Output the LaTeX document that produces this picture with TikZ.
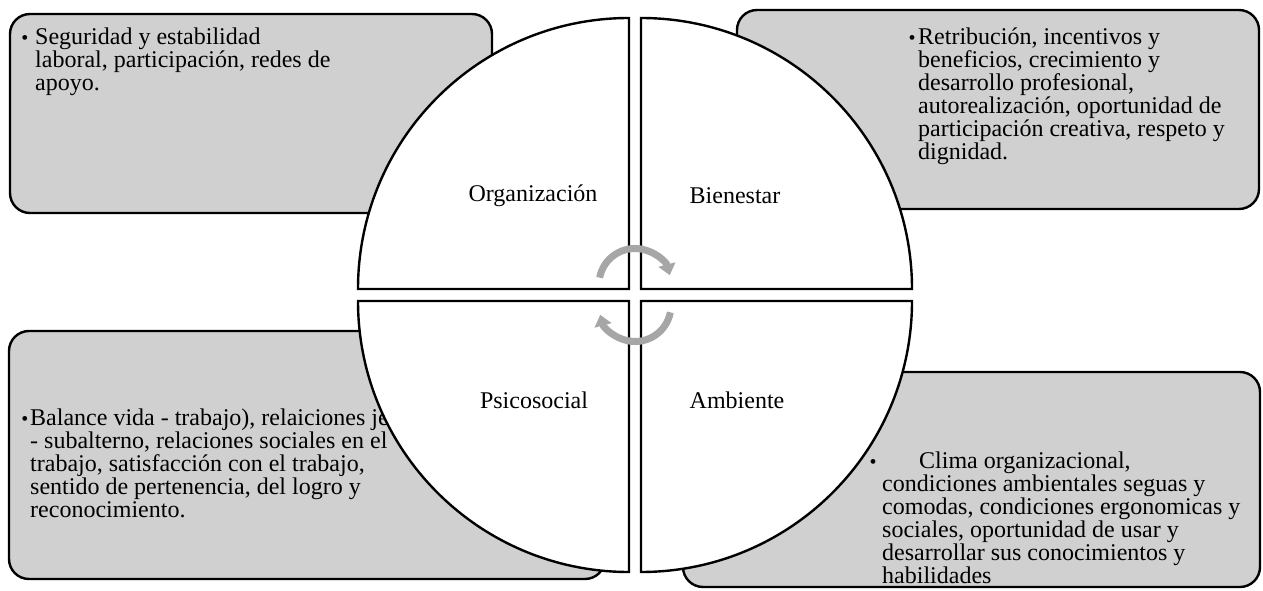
\documentclass[tikz,border=0pt]{standalone}
\usepackage{fontspec}
\setmainfont{Liberation Serif}
\usetikzlibrary{arrows.meta}
\definecolor{cajagris}{HTML}{D0D0D0}
\definecolor{flechagris}{HTML}{A6A6A6}

\begin{document}
\begin{tikzpicture}[x=1pt,y=1pt,
  caja/.style={draw,line width=2.4pt,fill=cajagris,rounded corners=20pt,inner sep=0pt},
  cuarto/.style={draw,line width=2.4pt,fill=white},
  texto/.style={anchor=base west,align=left,inner sep=0pt,font=\fontsize{24}{23}\selectfont},
  punto/.style={anchor=base,inner sep=0pt,font=\fontsize{20}{23}\selectfont},
  etiqueta/.style={inner sep=0pt,font=\fontsize{24}{23}\selectfont},
  giro/.style={flechagris,line width=7pt,-{Triangle[width=17pt,length=11pt]}}]
\useasboundingbox (0,0) rectangle (1263,590);
% cajas
\node[caja,minimum width=482pt,minimum height=199pt] (org) at (251,476.5) {};
\node[caja,minimum width=522pt,minimum height=199pt] (bien) at (998,480.5) {};
\node[caja,minimum width=596pt,minimum height=248pt] (psico) at (307,135) {};
\node[caja,minimum width=577pt,minimum height=215pt] (amb) at (971.5,110.5) {};
% textos (the node sits on its last line)
\node[punto] (p1) at (25,545) {\textbullet};
\node[texto] (t1) at (35,499) {Seguridad y estabilidad\\laboral, participación, redes de\\apoyo.};
\node[punto] (p2) at (912,545) {\textbullet};
\node[texto] (t2) at (918,430) {Retribución, incentivos y\\beneficios, crecimiento y\\desarrollo profesional,\\autorealización, oportunidad de\\participación creativa, respeto y\\dignidad.};
\node[punto] (p3) at (25,165) {\textbullet};
\node[texto] (t3) at (30,73) {Balance vida - trabajo), relaiciones jefe\\- subalterno, relaciones sociales en el\\trabajo, satisfacción con el trabajo,\\sentido de pertenencia, del logro y\\reconocimiento.};
\node[punto] (p4) at (873,122) {\textbullet};
\node[texto] (t4) at (882,7) {\hspace{37pt}Clima organizacional,\\condiciones ambientales seguas y\\comodas, condiciones ergonomicas y\\sociales, oportunidad de usar y\\desarrollar sus conocimientos y\\habilidades};
% circulo
\draw[cuarto] (629,301) -- ++(-271,0) arc[start angle=180,end angle=90,radius=271] -- cycle;
\draw[cuarto] (641,301) -- ++(0,271) arc[start angle=90,end angle=0,radius=271] -- cycle;
\draw[cuarto] (629,289) -- ++(0,-271) arc[start angle=270,end angle=180,radius=271] -- cycle;
\draw[cuarto] (641,289) -- ++(271,0) arc[start angle=0,end angle=-90,radius=271] -- cycle;
% etiquetas
\node[etiqueta] (e1) at (533,394) {Organización};
\node[etiqueta] (e2) at (735,394) {Bienestar};
\node[etiqueta] (e3) at (534,190) {Psicosocial};
\node[etiqueta] (e4) at (737,190) {Ambiente};
% flechas
\draw[giro] (635,305.5) ++(169:36) arc[start angle=169,end angle=15,radius=36];
\draw[giro] (635,284.5) ++(-11:36) arc[start angle=-11,end angle=-165,radius=36];
\end{tikzpicture}
\end{document}
